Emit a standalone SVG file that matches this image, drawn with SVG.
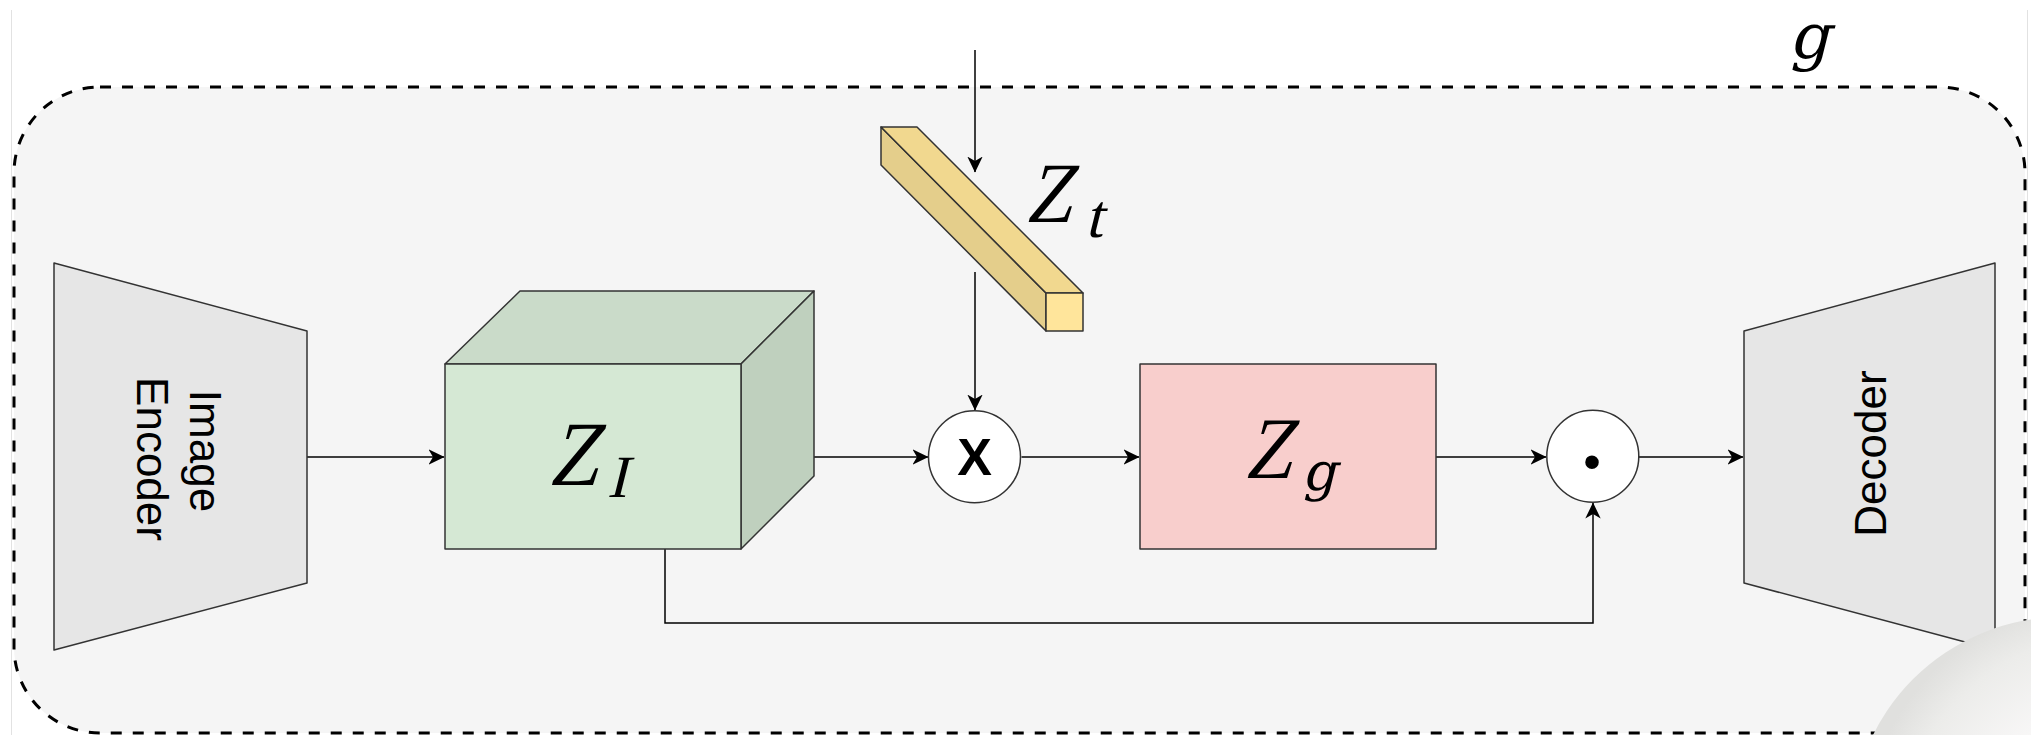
<svg xmlns="http://www.w3.org/2000/svg" width="2031" height="735" viewBox="0 0 2031 735">
  <style>
    .shape { stroke: #333333; stroke-width: 1.5; stroke-linejoin: round; }
    .conn { fill: none; stroke: #000000; stroke-width: 1.5; }
    .math { font-family: "Liberation Serif", serif; fill: #000000; }
    .mathg { font-family: "DejaVu Serif", serif; fill: #000000; }
    .label { font-family: "Liberation Sans", Arial, sans-serif; fill: #000000; }
  </style>
  <defs>
    <marker id="arrow" markerUnits="userSpaceOnUse" viewBox="0 0 16 16" refX="15.5" refY="8" markerWidth="16" markerHeight="16" orient="auto">
      <path d="M0,0.3 L16,8 L0,15.7 L4.5,8 Z" fill="#000000"/>
    </marker>
    <radialGradient id="ball" cx="0.62" cy="0.55" r="0.6">
      <stop offset="0" stop-color="#ffffff"/>
      <stop offset="0.55" stop-color="#f8f7f7"/>
      <stop offset="0.85" stop-color="#ececea"/>
      <stop offset="1" stop-color="#e0e0de"/>
    </radialGradient>
  </defs>

  <rect x="0" y="0" width="2031" height="735" fill="#ffffff"/>
  <line x1="11.5" y1="10" x2="11.5" y2="735" stroke="#e2e2e2" stroke-width="1"/>
  <line x1="2027.5" y1="10" x2="2027.5" y2="735" stroke="#e2e2e2" stroke-width="1"/>

  <g id="container-g">
    <rect x="14" y="87" width="2011" height="646" rx="86" ry="86" fill="#f5f5f5" stroke="#000000" stroke-width="3" stroke-dasharray="11 11"/>
    <text class="mathg" font-size="63" transform="translate(1789,58) skewX(-14)">g</text>
  </g>

  <g id="connectors">
    <path class="conn" d="M307,457 L444,457" marker-end="url(#arrow)"/>
    <path class="conn" d="M814,457 L928,457" marker-end="url(#arrow)"/>
    <path class="conn" d="M1021.5,457 L1139,457" marker-end="url(#arrow)"/>
    <path class="conn" d="M1436,457 L1546,457" marker-end="url(#arrow)"/>
    <path class="conn" d="M1639,457 L1743,457" marker-end="url(#arrow)"/>
    <path class="conn" d="M665,549 L665,623 L1593,623 L1593,503" marker-end="url(#arrow)"/>
    <path class="conn" d="M975,50 L975,172" marker-end="url(#arrow)"/>
    <path class="conn" d="M975,272 L975,410" marker-end="url(#arrow)"/>
  </g>

  <g id="image-encoder">
    <polygon class="shape" points="54,263 307,331 307,583 54,650" fill="#e6e6e6"/>
    <text class="label" font-size="44" text-anchor="middle" transform="translate(190,451) rotate(90)">Image</text>
    <text class="label" font-size="44" text-anchor="middle" transform="translate(137,459) rotate(90)">Encoder</text>
  </g>

  <g id="z-i">
    <polygon class="shape" points="445,364 520,291 814,291 741,364" fill="#cadbc9"/>
    <polygon class="shape" points="741,364 814,291 814,476 741,549" fill="#bfd0be"/>
    <rect class="shape" x="445" y="364" width="296" height="185" fill="#d5e8d4"/>
    <text class="math" font-size="92" transform="translate(548,485) skewX(-14) scale(0.9,1)">Z</text>
    <text class="math" font-size="60" transform="translate(607,497) skewX(-14)">I</text>
  </g>

  <g id="z-t">
    <polygon class="shape" points="881,127 1046,293 1046,331 881,165" fill="#e4ce8b"/>
    <polygon class="shape" points="881,127 917,127 1083,293 1046,293" fill="#f1d88f"/>
    <rect class="shape" x="1046" y="293" width="37" height="38" fill="#ffe59b"/>
    <text class="math" font-size="86" transform="translate(1025,222) skewX(-14) scale(0.9,1)">Z</text>
    <text class="math" font-size="62" transform="translate(1085,237) skewX(-14)">t</text>
  </g>

  <g id="multiply">
    <circle class="shape" cx="974.5" cy="456.7" r="46" fill="#ffffff"/>
    <text class="label" x="974.5" y="475" font-size="52" font-weight="bold" text-anchor="middle">X</text>
  </g>

  <g id="z-g">
    <rect class="shape" x="1140" y="364" width="296" height="185" fill="#f8cecc"/>
    <text class="math" font-size="88" transform="translate(1244,478) skewX(-14) scale(0.9,1)">Z</text>
    <text class="mathg" font-size="53" transform="translate(1302,490) skewX(-14)">g</text>
  </g>

  <g id="hadamard">
    <circle class="shape" cx="1592.8" cy="456.3" r="46" fill="#ffffff"/>
    <text class="label" x="1592" y="479" font-size="50" text-anchor="middle">•</text>
  </g>

  <g id="decoder">
    <polygon class="shape" points="1744,331 1995,263 1995,650 1744,583" fill="#e6e6e6"/>
    <text class="label" font-size="44" text-anchor="middle" transform="translate(1886,453.5) rotate(-90)">Decoder</text>
  </g>

  <circle cx="2063" cy="829" r="212" fill="url(#ball)"/>
</svg>
